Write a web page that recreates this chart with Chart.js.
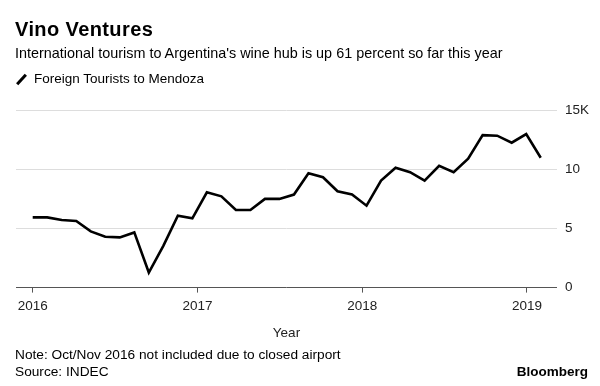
<!DOCTYPE html>
<html>
<head>
<meta charset="utf-8">
<script src="https://cdn.jsdelivr.net/npm/chart.js@4.4.0/dist/chart.umd.min.js"></script>
<style>
  body { margin: 0; background: #fff; font-family: "Liberation Sans", Arial, sans-serif; }
  #wrap { position: relative; width: 600px; height: 386px; overflow: hidden; }
  #myChart { position: absolute; left: 0; top: 0; }
  .t { position: absolute; white-space: nowrap; color: #000; line-height: 1; }
  #title { left: 15px; top: 19px; font-size: 20px; font-weight: bold; letter-spacing: 0.4px; }
  #subtitle { left: 15px; top: 46px; font-size: 14.4px; }
  #legend { left: 34px; top: 72px; font-size: 13.5px; }
  #swatch { position: absolute; left: 20px; top: 73px; width: 3px; height: 13px; background: #000; transform: rotate(42deg); }
  #note { left: 15px; top: 348px; font-size: 13.7px; }
  #source { left: 15px; top: 365px; font-size: 13.7px; }
  #brand { right: 12px; top: 365px; font-size: 13.5px; font-weight: bold; }
</style>
</head>
<body>
<div id="wrap">
  <canvas id="myChart" width="600" height="386"></canvas>
  <div class="t" id="title">Vino Ventures</div>
  <div class="t" id="subtitle">International tourism to Argentina's wine hub is up 61 percent so far this year</div>
  <div id="swatch"></div>
  <div class="t" id="legend">Foreign Tourists to Mendoza</div>
  <div class="t" id="note">Note: Oct/Nov 2016 not included due to closed airport</div>
  <div class="t" id="source">Source: INDEC</div>
  <div class="t" id="brand">Bloomberg</div>
</div>
<script>
// monthly foreign tourists to Mendoza (Oct/Nov 2016 missing)
var months = [
  "Jan 2016", "Feb 2016", "Mar 2016", "Apr 2016", "May 2016", "Jun 2016",
  "Jul 2016", "Aug 2016", "Sep 2016", "Dec 2016",
  "Jan 2017", "Feb 2017", "Mar 2017", "Apr 2017", "May 2017", "Jun 2017",
  "Jul 2017", "Aug 2017", "Sep 2017", "Oct 2017", "Nov 2017", "Dec 2017",
  "Jan 2018", "Feb 2018", "Mar 2018", "Apr 2018", "May 2018", "Jun 2018",
  "Jul 2018", "Aug 2018", "Sep 2018", "Oct 2018", "Nov 2018", "Dec 2018",
  "Jan 2019", "Feb 2019"
];
// thousands of tourists
var tourists = [
  5.93, 5.93, 5.71, 5.63, 4.75, 4.30, 4.24, 4.66, 1.27, 3.53,
  6.08, 5.85, 8.05, 7.71, 6.56, 6.56, 7.49, 7.49, 7.86, 9.66, 9.32, 8.14,
  7.86, 6.92, 9.04, 10.12, 9.75, 9.04, 10.29, 9.75, 10.88, 12.88, 12.83, 12.24,
  12.97, 10.97
];
var yearLabels = ["2016", "2017", "2018", "2019"];
var yTicks = [0, 5, 10, 15];

// points are spread evenly over Jan 2016 .. Feb 2019 (37 months)
var spanMonths = 37;
var step = (months.length - 1) / spanMonths;

var points = [];
for (var i = 0; i < tourists.length; i++) {
  points.push({ x: i, y: tourists[i] });
}

var myChart = new Chart(document.getElementById("myChart").getContext("2d"), {
  type: "line",
  data: {
    datasets: [
      {
        label: "Foreign Tourists to Mendoza",
        data: points,
        borderColor: "#000",
        borderWidth: 2.6,
        pointRadius: 0,
        tension: 0,
        fill: false,
      },
    ],
  },
  options: {
    responsive: false,
    animation: false,
    layout: { padding: { top: 110, left: 16, right: 3, bottom: 45 } },
    plugins: { legend: { display: false }, tooltip: { enabled: false } },
    scales: {
      x: {
        type: "linear",
        min: -1.15,
        max: 36.12,
        afterBuildTicks: function (scale) {
          scale.ticks = yearLabels.map(function (l, k) {
            return { value: k * 12 * step };
          });
        },
        grid: { drawOnChartArea: false, drawTicks: true, tickLength: 5, color: "#555" },
        border: { display: true, color: "#555" },
        ticks: {
          autoSkip: false,
          maxRotation: 0,
          padding: 6,
          color: "#222",
          font: { family: "Liberation Sans", size: 13.5 },
          callback: function (v, idx) { return yearLabels[idx]; },
        },
        title: {
          display: true,
          text: "Year",
          color: "#222",
          font: { family: "Liberation Sans", size: 13.5 },
          padding: { top: 4, bottom: 0 },
        },
      },
      y: {
        position: "right",
        min: 0,
        max: 15,
        afterBuildTicks: function (scale) {
          scale.ticks = yTicks.map(function (v) { return { value: v }; });
        },
        grid: { color: "#dddddd", drawTicks: false },
        border: { display: false },
        ticks: {
          padding: 8,
          color: "#222",
          font: { family: "Liberation Sans", size: 13.5 },
          callback: function (v) { return v === 15 ? "15K" : v; },
        },
      },
    },
  },
});
</script>
</body>
</html>
